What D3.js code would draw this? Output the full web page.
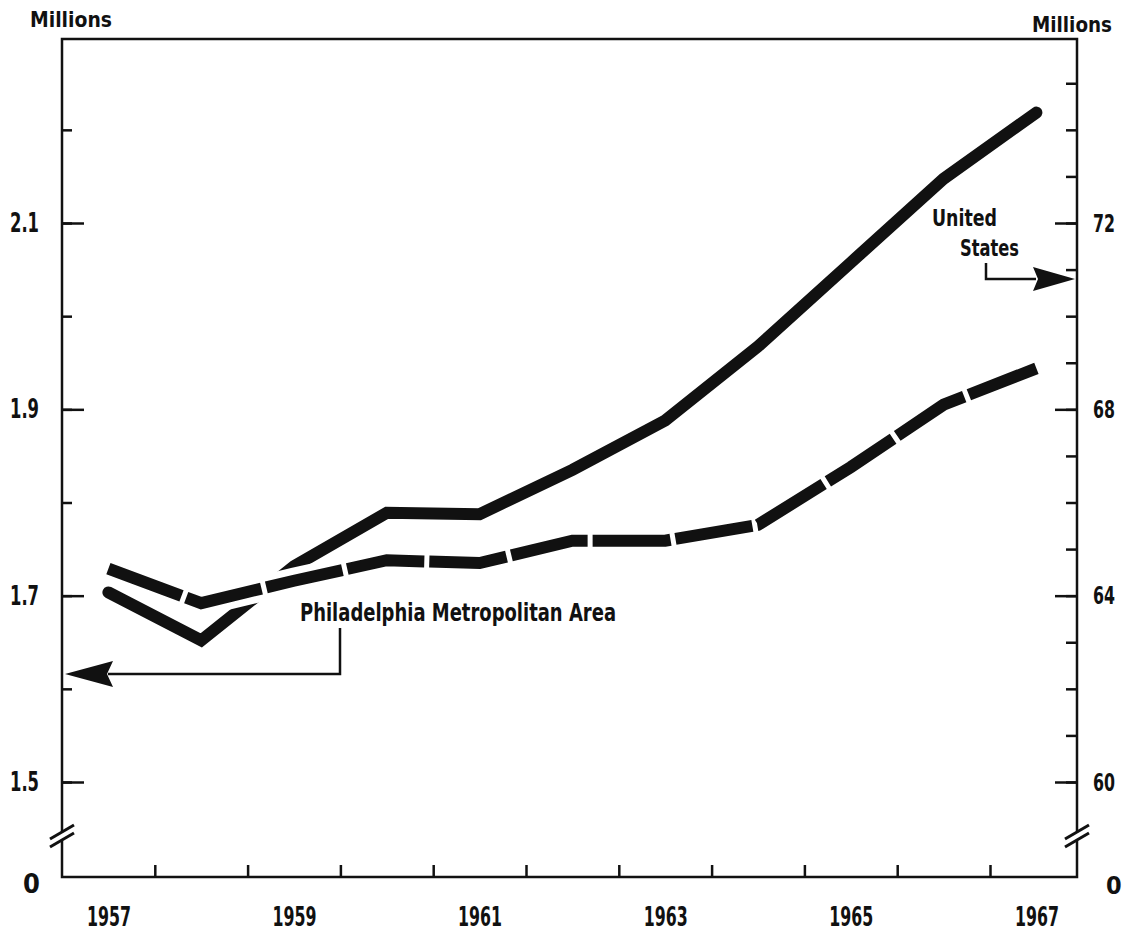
<!DOCTYPE html>
<html>
<head>
<meta charset="utf-8">
<script src="https://cdn.jsdelivr.net/npm/d3@7"></script>
<style>
  body { margin: 0; background: #fff; }
  text {
    font-family: "Liberation Sans Narrow", "DejaVu Sans Condensed", "Roboto", sans-serif;
    font-weight: bold;
    fill: #111;
  }
</style>
</head>
<body>
<svg id="chart" width="1127" height="934"></svg>
<script>
  /*
   * Data:
   */
  var YEARS = [1957, 1958, 1959, 1960, 1961, 1962, 1963, 1964, 1965, 1966, 1967];
  // United States, millions (right axis)
  var US_EMPLOYMENT = [64.07, 63.04, 64.63, 65.78, 65.75, 66.70, 67.76, 69.35, 71.15, 72.95, 74.37];
  // Philadelphia Metropolitan Area, millions (left axis)
  var PHILA_EMPLOYMENT = [1.729, 1.692, 1.716, 1.738, 1.735, 1.759, 1.759, 1.776, 1.838, 1.905, 1.944];

  var YEAR_TICKS = [1958, 1959, 1960, 1961, 1962, 1963, 1964, 1965, 1966, 1967];
  var YEAR_LABELS = [1957, 1959, 1961, 1963, 1965, 1967];
  var LEFT_TICKS = [1.5, 1.6, 1.7, 1.8, 1.9, 2.0, 2.1, 2.2];
  var LEFT_LABELS = [1.5, 1.7, 1.9, 2.1];
  var RIGHT_TICKS = [60, 61, 62, 63, 64, 65, 66, 67, 68, 69, 70, 71, 72, 73, 74, 75];
  var RIGHT_LABELS = [60, 64, 68, 72];

  /*
   * Layout
   */
  var LEFT = 62, RIGHT = 1077, TOP = 39, BOTTOM = 877;
  var BREAK_Y = 836; // axis break
  var INK = "#111";
  var TICK_FONT = "27px";

  var svg = d3.select("#chart");

  var x = d3.scaleLinear().domain([1957, 1967]).range([LEFT, 990]);
  var yl = d3.scaleLinear().domain([1.5, 2.1]).range([782, 223]);
  var yr = d3.scaleLinear().domain([60, 72]).range([782, 223]);

  function style_axis(g) {
    g.select(".domain").remove();
    g.selectAll("line").attr("stroke", INK).attr("stroke-width", 2.5);
    g.selectAll("text")
      .attr("font-family", null)
      .style("font-size", TICK_FONT)
      .attr("fill", INK);
  }

  // frame: top border + axes (with breaks)
  var frame = svg.append("g")
    .attr("fill", "none")
    .attr("stroke", INK)
    .attr("stroke-width", 2.5);
  frame.append("path")
    .attr("d", "M" + LEFT + "," + (BREAK_Y - 5) + "V" + TOP + "H" + RIGHT + "V" + (BREAK_Y - 5));
  frame.append("path")
    .attr("d", "M" + LEFT + "," + (BREAK_Y + 5) + "V" + BOTTOM + "H" + RIGHT + "V" + (BREAK_Y + 5));
  [LEFT, RIGHT].forEach(function (ax) {
    [-4, 4].forEach(function (off) {
      frame.append("line")
        .attr("x1", ax - 12).attr("y1", BREAK_Y + off + 7)
        .attr("x2", ax + 12).attr("y2", BREAK_Y + off - 7)
        .attr("stroke-width", 3);
    });
  });

  // left axis
  svg.append("g")
    .attr("transform", "translate(" + LEFT + ",0)")
    .call(d3.axisLeft(yl).tickValues(LEFT_TICKS).tickSize(-10).tickFormat(""))
    .call(style_axis);
  svg.append("g")
    .attr("transform", "translate(" + LEFT + ",0)")
    .call(d3.axisLeft(yl).tickValues(LEFT_LABELS).tickSize(-22).tickPadding(23)
      .tickFormat(d3.format(".1f")))
    .call(style_axis)
    .selectAll("text")
      .attr("textLength", 29)
      .attr("lengthAdjust", "spacingAndGlyphs");

  // right axis
  svg.append("g")
    .attr("transform", "translate(" + RIGHT + ",0)")
    .call(d3.axisRight(yr).tickValues(RIGHT_TICKS).tickSize(-11).tickFormat(""))
    .call(style_axis);
  svg.append("g")
    .attr("transform", "translate(" + RIGHT + ",0)")
    .call(d3.axisRight(yr).tickValues(RIGHT_LABELS).tickSize(-22).tickPadding(16))
    .call(style_axis)
    .selectAll("text")
      .style("font-size", "25px")
      .attr("textLength", 22)
      .attr("lengthAdjust", "spacingAndGlyphs");

  // bottom axis
  svg.append("g")
    .attr("transform", "translate(0," + BOTTOM + ")")
    .call(d3.axisBottom(x).tickValues(YEAR_TICKS).tickSize(-12).tickFormat(""))
    .call(style_axis);
  svg.append("g")
    .attr("transform", "translate(0," + BOTTOM + ")")
    .call(d3.axisBottom(x).tickValues(YEAR_LABELS.map(function (d) { return d + 0.5; }))
      .tickSize(0).tickPadding(30)
      .tickFormat(function (d) { return String(Math.floor(d)); }))
    .call(style_axis)
    .selectAll("text")
      .attr("textLength", 44)
      .attr("lengthAdjust", "spacingAndGlyphs");

  // zero labels below the breaks
  svg.append("text")
    .attr("x", 40).attr("y", 893)
    .attr("text-anchor", "end")
    .style("font-size", TICK_FONT)
    .text("0");
  svg.append("text")
    .attr("x", 1106).attr("y", 894)
    .style("font-size", "25px")
    .text("0");

  // unit labels
  svg.append("text")
    .attr("x", 30).attr("y", 27)
    .style("font-size", "22px")
    .attr("textLength", 82).attr("lengthAdjust", "spacingAndGlyphs")
    .text("Millions");
  svg.append("text")
    .attr("x", 1032).attr("y", 32)
    .style("font-size", "21px")
    .attr("textLength", 80).attr("lengthAdjust", "spacingAndGlyphs")
    .text("Millions");

  /*
   * Lines
   */
  var us = YEARS.map(function (yr_, i) { return { year: yr_, value: US_EMPLOYMENT[i] }; });
  var phila = YEARS.map(function (yr_, i) { return { year: yr_, value: PHILA_EMPLOYMENT[i] }; });

  var us_line = d3.line()
    .x(function (d) { return x(d.year + 0.5); })
    .y(function (d) { return yr(d.value); });
  var phila_line = d3.line()
    .x(function (d) { return x(d.year + 0.5); })
    .y(function (d) { return yl(d.value); });

  svg.append("path")
    .datum(us)
    .attr("d", us_line)
    .attr("fill", "none")
    .attr("stroke", INK)
    .attr("stroke-width", 12)
    .attr("stroke-linecap", "round")
    .attr("stroke-linejoin", "miter");

  // white halo so the solid line breaks where the dashed one crosses it
  svg.append("path")
    .datum(phila)
    .attr("d", phila_line)
    .attr("fill", "none")
    .attr("stroke", "#fff")
    .attr("stroke-width", 26)
    .attr("stroke-linejoin", "round");

  svg.append("path")
    .datum(phila)
    .attr("d", phila_line)
    .attr("fill", "none")
    .attr("stroke", INK)
    .attr("stroke-width", 12)
    .attr("stroke-dasharray", "78,5")
    .attr("stroke-linejoin", "miter");

  /*
   * Annotations
   */
  var notes = svg.append("g");

  // United States -> right axis
  notes.append("text").attr("x", 932).attr("y", 226)
    .style("font-size", "23px")
    .attr("textLength", 65).attr("lengthAdjust", "spacingAndGlyphs")
    .text("United");
  notes.append("text").attr("x", 960).attr("y", 256)
    .style("font-size", "23px")
    .attr("textLength", 59).attr("lengthAdjust", "spacingAndGlyphs")
    .text("States");
  notes.append("path")
    .attr("d", "M986,263V279H1036")
    .attr("fill", "none").attr("stroke", INK).attr("stroke-width", 2.5);
  notes.append("path")
    .attr("d", "M" + (RIGHT - 2) + ",279L1033,267L1038,279L1033,291Z")
    .attr("fill", INK);

  // Philadelphia Metropolitan Area -> left axis
  notes.append("text").attr("x", 300).attr("y", 621)
    .style("font-size", "24px")
    .attr("textLength", 316).attr("lengthAdjust", "spacingAndGlyphs")
    .text("Philadelphia Metropolitan Area");
  notes.append("path")
    .attr("d", "M340,628V674H108")
    .attr("fill", "none").attr("stroke", INK).attr("stroke-width", 2.5);
  notes.append("path")
    .attr("d", "M" + (LEFT + 3) + ",674L113,661L107,674L113,687Z")
    .attr("fill", INK);
</script>
</body>
</html>
